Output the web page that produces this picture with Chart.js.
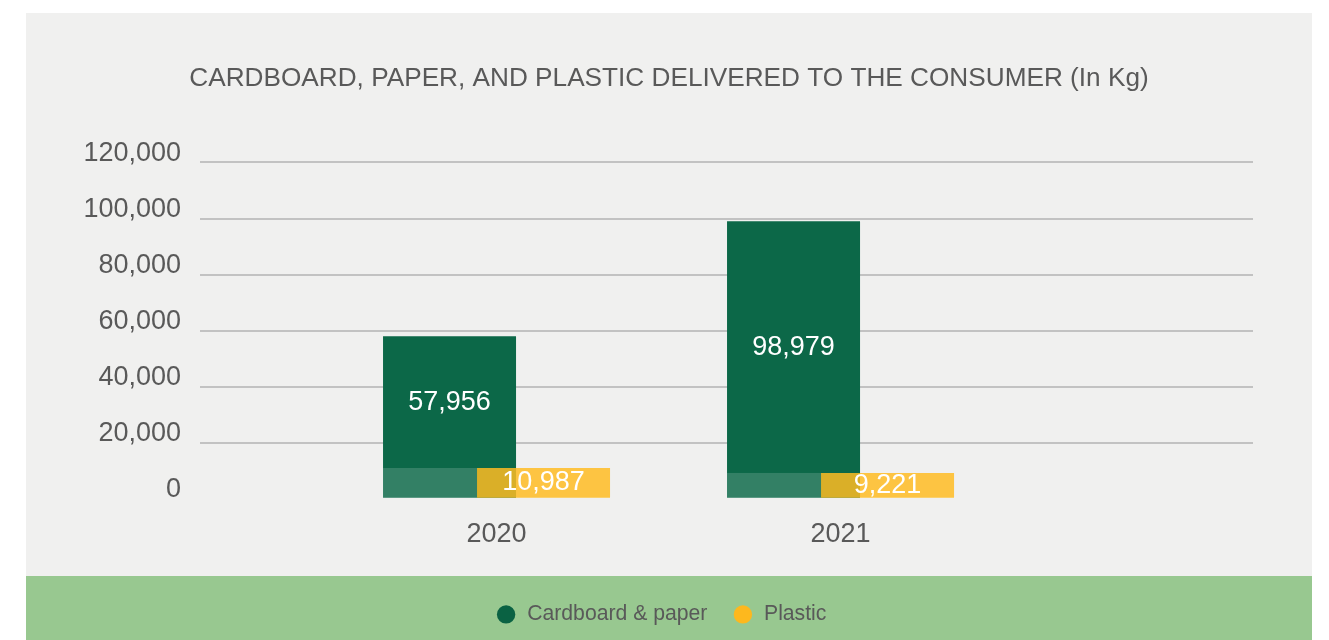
<!DOCTYPE html>
<html>
<head>
<meta charset="utf-8">
<script src="https://cdn.jsdelivr.net/npm/chart.js@4.4.1/dist/chart.umd.min.js"></script>
<style>
    html, body { margin: 0; padding: 0; background: #ffffff; }
    #panel {
        position: absolute; left: 26px; top: 13px; width: 1286px; height: 627px;
        background: linear-gradient(to bottom, #f0f0ef 0, #f0f0ef 563px, #98c890 563px, #98c890 100%);
    }
    canvas { display: block; }
</style>
</head>
<body>
<div id="panel"><canvas id="myChart" width="1286" height="627"></canvas></div>
<script>
const years = [2020, 2021];
const cardboard = [57956, 98979];
const plastic = [10987, 9221];
const seriesNames = ['Cardboard & paper', 'Plastic'];
const yMin = 0, yMax = 120000, yStep = 20000;

const textColor = '#595959';
const fontFamily = '"Liberation Sans", Arial, Helvetica, sans-serif';
const legendColors = ['#0a6243', '#fdb81e'];

Chart.defaults.font.family = fontFamily;

// plastic bars go over the cardboard bars, so draw them last
const plasticOnTop = {
    id: 'plasticOnTop',
    beforeDatasetDraw(chart, args) {
        if (args.index === 1) return false;
    },
    afterDatasetsDraw(chart) {
        const ctx = chart.ctx;
        const green = chart.getDatasetMeta(0).data;
        const yellow = chart.getDatasetMeta(1).data;
        // the faded strip on the cardboard bar next to the plastic bar
        ctx.save();
        ctx.fillStyle = 'rgba(255, 255, 255, 0.16)';
        yellow.forEach((y, j) => {
            const g = green[j];
            const gl = g.x - g.width / 2;
            const yl = y.x - y.width / 2;
            ctx.fillRect(gl, y.y, yl - gl, y.base - y.y);
        });
        ctx.restore();
        chart.getDatasetMeta(1).controller.draw();
    }
};

// white numbers on the bars
const valueLabels = {
    id: 'valueLabels',
    afterDatasetsDraw(chart) {
        const ctx = chart.ctx;
        const green = chart.getDatasetMeta(0).data;
        const yellow = chart.getDatasetMeta(1).data;
        ctx.save();
        ctx.fillStyle = '#ffffff';
        ctx.font = '27px ' + fontFamily;
        ctx.textAlign = 'center';
        ctx.textBaseline = 'middle';
        green.forEach((bar, j) => {
            ctx.fillText(cardboard[j].toLocaleString('en-US'), bar.x, (bar.y + yellow[j].y) / 2);
        });
        yellow.forEach((bar, j) => {
            ctx.fillText(plastic[j].toLocaleString('en-US'), bar.x, (bar.y + bar.base) / 2);
        });
        ctx.restore();
    }
};

// the legend sits a little left of the centre in the original
const legendShift = {
    id: 'legendShift',
    afterLayout(chart) {
        chart.legend.left -= 8;
        chart.legend.right -= 8;
    }
};

const data = {
    labels: years,
    datasets: [
        {
            label: seriesNames[0],
            data: cardboard,
            backgroundColor: '#0c6848'
        },
        {
            label: seriesNames[1],
            data: plastic,
            backgroundColor: 'rgba(255, 188, 35, 0.85)'
        }
    ]
};

const config = {
    type: 'bar',
    data: data,
    options: {
        responsive: false,
        animation: false,
        categoryPercentage: 0.5465,
        barPercentage: 1.415,
        layout: { padding: { left: 0, right: 0, top: 0, bottom: 5 } },
        plugins: {
            title: {
                display: true,
                text: 'CARDBOARD, PAPER, AND PLASTIC DELIVERED TO THE CONSUMER (In Kg)',
                color: textColor,
                font: { size: 26.2, weight: 'normal' },
                padding: { top: 50, bottom: 68 }
            },
            legend: {
                position: 'bottom',
                labels: {
                    usePointStyle: true,
                    pointStyle: 'circle',
                    boxWidth: 21,
                    boxHeight: 13,
                    padding: 25,
                    color: textColor,
                    font: { size: 21.2 },
                    generateLabels(chart) {
                        const items = Chart.defaults.plugins.legend.labels.generateLabels(chart);
                        items.forEach(it => {
                            it.fillStyle = legendColors[it.datasetIndex];
                            it.strokeStyle = legendColors[it.datasetIndex];
                        });
                        return items;
                    }
                }
            },
            tooltip: { enabled: false }
        },
        scales: {
            x: {
                type: 'linear',
                offset: false,
                bounds: 'data',
                min: 2019.138,
                max: 2022.199,
                grid: { display: false, offset: false },
                border: { display: false },
                afterBuildTicks: s => { s.ticks = years.map(v => ({ value: v })); },
                ticks: {
                    autoSkip: false,
                    maxRotation: 0,
                    padding: 12,
                    color: textColor,
                    font: { size: 27 },
                    callback: v => String(v)
                },
                afterFit: s => { s.height = 80; s.paddingLeft = 0; s.paddingRight = 59; }
            },
            y: {
                min: yMin,
                max: yMax,
                grid: {
                    color: c => c.tick.value === 0 ? 'rgba(0,0,0,0)' : '#c2c2c2',
                    lineWidth: 2,
                    drawTicks: false
                },
                border: { display: false },
                ticks: {
                    stepSize: yStep,
                    padding: 19,
                    labelOffset: -9,
                    color: textColor,
                    font: { size: 27 },
                    callback: v => v.toLocaleString('en-US')
                },
                afterFit: s => { s.width = 174; s.paddingTop = 0; s.paddingBottom = 0; }
            }
        }
    },
    plugins: [plasticOnTop, valueLabels, legendShift]
};

window.onload = function() {
    const ctx = document.getElementById('myChart').getContext('2d');
    new Chart(ctx, config);
};
</script>
</body>
</html>
